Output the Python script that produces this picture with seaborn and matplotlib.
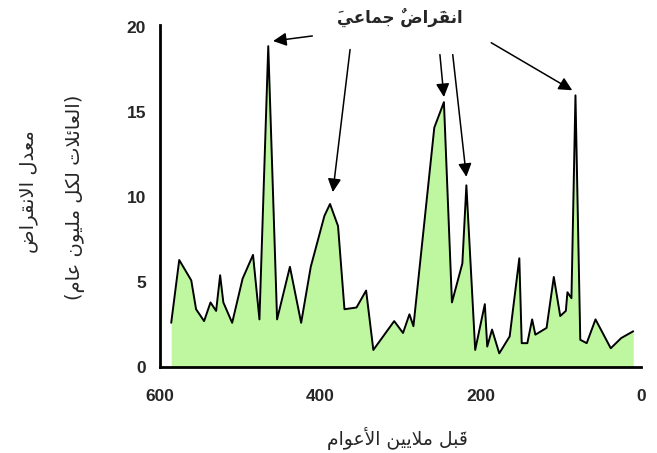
# Extinction rate through the Phanerozoic, with the mass extinctions marked

import matplotlib
matplotlib.use('Agg')
import seaborn as sns
import matplotlib.pyplot as plt

# Millions of years ago and extinction rate (families per million years)
times = [586, 576, 561, 555, 545, 537, 530, 525, 521, 510, 497, 484, 476, 465, 454,
         438, 424, 412, 395, 388, 378, 370, 355, 343, 334, 308, 297, 289, 284, 258,
         246, 236, 223, 218, 207, 195, 192, 186, 177, 164, 152, 149, 142, 136, 132,
         118, 109, 101, 94, 92, 87, 82, 76, 68, 57, 38, 25, 10]
rates = [2.6, 6.3, 5.1, 3.4, 2.7, 3.8, 3.3, 5.4, 3.8, 2.6, 5.2, 6.6, 2.8, 18.9, 2.8,
         5.9, 2.6, 5.9, 8.9, 9.6, 8.3, 3.4, 3.5, 4.5, 1.0, 2.7, 2.0, 3.1, 2.4, 14.1,
         15.6, 3.8, 6.1, 10.7, 1.0, 3.7, 1.2, 2.2, 0.8, 1.8, 6.4, 1.4, 1.4, 2.8, 1.9,
         2.3, 5.3, 3.0, 3.3, 4.4, 4.05, 16.0, 1.6, 1.4, 2.8, 1.1, 1.7, 2.1]

# Mass extinctions the arrows point at (time of the peak)
extinction_times = [465, 388, 246, 218, 82]
x_ticks = [600, 400, 200, 0]
y_ticks = [0, 5, 10, 15, 20]

title_text = 'انقَراضٌ جماعيَ'
xlabel_text = 'قَبل ملايين الأعوام'
ylabel_text = 'معدل الانقراض'
ylabel2_text = '(العائلات لكل مليون عام)'

# matplotlib has no Arabic shaping, so pick the presentation forms by hand
# (isolated, final, initial, medial)
FORMS = {
    'ا': ('\uFE8D', '\uFE8E', None, None),
    'أ': ('\uFE83', '\uFE84', None, None),
    'ب': ('\uFE8F', '\uFE90', '\uFE91', '\uFE92'),
    'ت': ('\uFE95', '\uFE96', '\uFE97', '\uFE98'),
    'ئ': ('\uFE89', '\uFE8A', '\uFE8B', '\uFE8C'),
    'ج': ('\uFE9D', '\uFE9E', '\uFE9F', '\uFEA0'),
    'د': ('\uFEA9', '\uFEAA', None, None),
    'ر': ('\uFEAD', '\uFEAE', None, None),
    'ض': ('\uFEBD', '\uFEBE', '\uFEBF', '\uFEC0'),
    'ع': ('\uFEC9', '\uFECA', '\uFECB', '\uFECC'),
    'ق': ('\uFED5', '\uFED6', '\uFED7', '\uFED8'),
    'ك': ('\uFED9', '\uFEDA', '\uFEDB', '\uFEDC'),
    'ل': ('\uFEDD', '\uFEDE', '\uFEDF', '\uFEE0'),
    'م': ('\uFEE1', '\uFEE2', '\uFEE3', '\uFEE4'),
    'ن': ('\uFEE5', '\uFEE6', '\uFEE7', '\uFEE8'),
    'و': ('\uFEED', '\uFEEE', None, None),
    'ي': ('\uFEF1', '\uFEF2', '\uFEF3', '\uFEF4'),
}
LAM_ALEF = {'ا': ('\uFEFB', '\uFEFC'), 'أ': ('\uFEF7', '\uFEF8')}
MARKS = set('\u064B\u064C\u064D\u064E\u064F\u0650\u0651\u0652')
MIRROR = {'(': ')', ')': '('}


def shape_arabic(text):
    # group base letters with their marks
    clusters = []
    for ch in text:
        if ch in MARKS and clusters:
            clusters[-1][1] += ch
        else:
            clusters.append([ch, ''])
    out = []
    i = 0
    while i < len(clusters):
        ch, marks = clusters[i]
        prev = clusters[i - 1][0] if i > 0 else None
        joins_prev = prev in FORMS and FORMS[prev][2] is not None and ch in FORMS
        nxt = clusters[i + 1][0] if i + 1 < len(clusters) else None
        if ch == 'ل' and nxt in LAM_ALEF:
            glyph = LAM_ALEF[nxt][1 if joins_prev else 0]
            out.append(marks + clusters[i + 1][1] + glyph)
            i += 2
            continue
        if ch in FORMS:
            forms = FORMS[ch]
            joins_next = forms[2] is not None and nxt in FORMS
            if joins_prev and joins_next:
                glyph = forms[3]
            elif joins_prev:
                glyph = forms[1]
            elif joins_next:
                glyph = forms[2]
            else:
                glyph = forms[0]
        else:
            glyph = MIRROR.get(ch, ch)
        # marks go first: matplotlib draws them at the pen position of the next glyph
        out.append(marks + glyph)
        i += 1
    return ''.join(reversed(out))


sns.set_style('white')
plt.rcParams['font.family'] = ['DejaVu Sans']

fig = plt.figure(figsize=(6.57, 4.53), dpi=100)
ax = fig.add_axes([0.2435, 0.19, 0.7325, 0.755])

ax.fill_between(times, rates, 0, color='#bff7a1', linewidth=0)
sns.lineplot(x=times, y=rates, ax=ax, color='black', linewidth=1.4, sort=False)

ax.set_xlim(600, 0)
ax.set_ylim(0, 20.15)
ax.set_xticks(x_ticks)
ax.set_yticks(y_ticks)
ax.set_xticklabels([str(t) for t in x_ticks], fontfamily='Liberation Sans',
                   fontweight='bold', fontsize=12.5)
ax.set_yticklabels([str(t) for t in y_ticks], fontfamily='Liberation Sans',
                   fontweight='bold', fontsize=12.5)
ax.tick_params(axis='x', length=0, pad=16)
ax.tick_params(axis='y', length=0, pad=10)
sns.despine(ax=ax)
for side in ['left', 'bottom']:
    ax.spines[side].set_linewidth(2)
    ax.spines[side].set_color('black')

# Arrows to the mass extinctions: (head, tail) in data coordinates
rate_at = dict(zip(times, rates))
arrow_tails = [(410, 19.5), (363, 18.7), (251, 18.4), (235, 18.4), (187, 19.1)]
arrow_heads = [(459, rate_at[465] + 0.3), (384.5, rate_at[388] + 0.7),
               (246, rate_at[246] + 0.3), (218, rate_at[218] + 0.5),
               (86, rate_at[82] + 0.3)]
for head, tail in zip(arrow_heads, arrow_tails):
    ax.annotate('', xy=head, xytext=tail,
                arrowprops=dict(arrowstyle='-|>', color='black', lw=1.1,
                                mutation_scale=20, shrinkA=0, shrinkB=0))

fig.text(400 / 657, 1 - 17 / 453, shape_arabic(title_text), ha='center', va='center',
         fontsize=12, fontweight='bold')
fig.text(397 / 657, 1 - 438 / 453, shape_arabic(xlabel_text), ha='center', va='center',
         fontsize=13.5)
fig.text(28 / 657, 1 - 192 / 453, shape_arabic(ylabel_text), ha='center', va='center',
         rotation=90, fontsize=14)
fig.text(75 / 657, 1 - 197 / 453, shape_arabic(ylabel2_text), ha='center', va='center',
         rotation=90, fontsize=14)

plt.savefig('out.png', dpi=100)
